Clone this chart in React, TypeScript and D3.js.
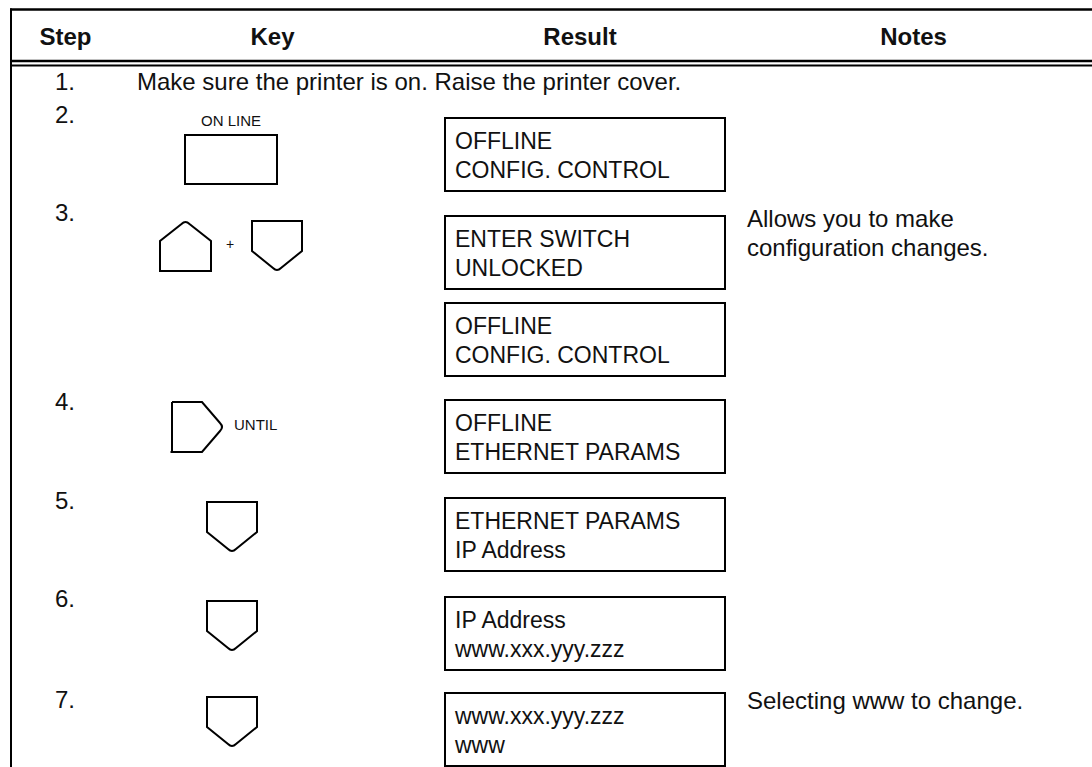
import React from 'react';
import * as d3 from 'd3';

// table content
const headers = ['Step', 'Key', 'Result', 'Notes'];
const steps = ['1.', '2.', '3.', '4.', '5.', '6.', '7.'];
const introText = 'Make sure the printer is on. Raise the printer cover.';
const keyKinds = ['', 'online', 'upDown', 'rightUntil', 'down', 'down', 'down'];
const keyLabels = { online: 'ON LINE', until: 'UNTIL', plus: '+' };
const resultLines = [
  ['OFFLINE', 'CONFIG. CONTROL'],
  ['ENTER SWITCH', 'UNLOCKED'],
  ['OFFLINE', 'CONFIG. CONTROL'],
  ['OFFLINE', 'ETHERNET PARAMS'],
  ['ETHERNET PARAMS', 'IP Address'],
  ['IP Address', 'www.xxx.yyy.zzz'],
  ['www.xxx.yyy.zzz', 'www'],
];
const noteSteps = ['3.', '7.'];
const noteLines = [['Allows you to make', 'configuration changes.'], ['Selecting www to change.']];

// layout (page geometry, not data)
const W = 1092;
const H = 767;
const FONT = '"Liberation Sans", Arial, Helvetica, sans-serif';
const colEdges = [11, 120, 425, 735, 1092];
const rowTops = [72, 118, 216, 400, 498, 597, 693];
const stepBaselines = [90, 123, 221, 410, 509, 607, 708];
const resultTops = [118, 216, 303, 400, 498, 597, 693];
const noteBaselines = [227, 709];

const colCenter = d3.scaleOrdinal<string, number>()
  .domain(headers)
  .range(headers.map((_, i) => (colEdges[i] + colEdges[i + 1]) / 2));
const rowTop = d3.scaleOrdinal<string, number>().domain(steps).range(rowTops);
const stepY = d3.scaleOrdinal<string, number>().domain(steps).range(stepBaselines);
const noteY = d3.scaleOrdinal<string, number>().domain(noteSteps).range(noteBaselines);

const boxX = 445;
const boxW = 280;
const boxH = 73;
const noteX = 747;

// key shapes: square-ish button with a chevron side
const R = 4;
function downKey(x: number, y: number) {
  const w = 50, s = 30, d = 21;
  const p = d3.path();
  const ax = x + w / 2, ay = y + s + d;
  p.moveTo(x, y);
  p.lineTo(x + w, y);
  p.lineTo(x + w, y + s);
  p.lineTo(ax + R, ay - R);
  p.quadraticCurveTo(ax, ay, ax - R, ay - R);
  p.lineTo(x, y + s);
  p.closePath();
  return p.toString();
}
function upKey(x: number, y: number) {
  const w = 51, s = 21, h = 51;
  const p = d3.path();
  const ax = x + w / 2, ay = y;
  p.moveTo(x, y + h);
  p.lineTo(x + w, y + h);
  p.lineTo(x + w, y + s);
  p.lineTo(ax + R, ay + R);
  p.quadraticCurveTo(ax, ay, ax - R, ay + R);
  p.lineTo(x, y + s);
  p.closePath();
  return p.toString();
}
function rightKey(x: number, y: number) {
  const h = 50, s = 30, d = 22;
  const p = d3.path();
  const ax = x + s + d, ay = y + h / 2;
  p.moveTo(x, y);
  p.lineTo(x + s, y);
  p.lineTo(ax - R, ay - R);
  p.quadraticCurveTo(ax, ay, ax - R, ay + R);
  p.lineTo(x + s, y + h);
  p.lineTo(x - 1.5, y + h);
  p.moveTo(x, y + h);
  p.lineTo(x, y);
  return p.toString();
}

const stroke = '#000';

function KeyCell({ kind, step }: { kind: string; step: string }) {
  const top = rowTop(step);
  if (kind === 'online') {
    return (
      <g>
        <text x={231} y={top + 8} fontSize={15} textAnchor="middle">{keyLabels.online}</text>
        <rect x={185} y={top + 17} width={92} height={49} fill="none" stroke={stroke} strokeWidth={2} />
      </g>
    );
  }
  if (kind === 'upDown') {
    return (
      <g>
        <path d={upKey(160, top + 4)} fill="none" stroke={stroke} strokeWidth={2} />
        <text x={230} y={top + 33} fontSize={14} textAnchor="middle">{keyLabels.plus}</text>
        <path d={downKey(252, top + 5)} fill="none" stroke={stroke} strokeWidth={2} />
      </g>
    );
  }
  if (kind === 'rightUntil') {
    return (
      <g>
        <path d={rightKey(172, top + 2)} fill="none" stroke={stroke} strokeWidth={2} />
        <text x={234} y={top + 30} fontSize={15}>{keyLabels.until}</text>
      </g>
    );
  }
  if (kind === 'down') {
    return <path d={downKey(207, top + 4)} fill="none" stroke={stroke} strokeWidth={2} />;
  }
  return null;
}

export default function App() {
  return (
    <div style={{ position: 'fixed', left: 0, top: 0, width: W, height: H, background: '#fff' }}>
      <svg width={W} height={H} style={{ display: 'block' }} fontFamily={FONT} fill="#111">
        {/* frame */}
        <line x1={10} x2={W} y1={9.5} y2={9.5} stroke={stroke} strokeWidth={2.4} />
        <line x1={11} x2={11} y1={8.5} y2={H} stroke={stroke} strokeWidth={2} />
        <line x1={11} x2={W} y1={61} y2={61} stroke={stroke} strokeWidth={2.4} />
        <line x1={11} x2={W} y1={65.5} y2={65.5} stroke={stroke} strokeWidth={2} />

        {/* header */}
        {headers.map(h => (
          <text key={h} x={colCenter(h)} y={45} fontSize={24} fontWeight="bold" textAnchor="middle">{h}</text>
        ))}

        {/* step numbers */}
        {steps.map(s => (
          <text key={s} x={55} y={stepY(s)} fontSize={24}>{s}</text>
        ))}
        <text x={137} y={stepY(steps[0])} fontSize={24}>{introText}</text>

        {/* keys */}
        {steps.map((s, i) => <KeyCell key={s} kind={keyKinds[i]} step={s} />)}

        {/* result displays */}
        {resultLines.map((lines, i) => (
          <g key={i} transform={`translate(${boxX},${resultTops[i]})`}>
            <rect x={0} y={0} width={boxW} height={boxH} fill="none" stroke={stroke} strokeWidth={2} />
            {lines.map((t, j) => (
              <text key={j} x={10} y={31 + j * 29} fontSize={23}>{t}</text>
            ))}
          </g>
        ))}

        {/* notes */}
        {noteLines.map((lines, i) => (
          <g key={i}>
            {lines.map((t, j) => (
              <text key={j} x={noteX} y={noteY(noteSteps[i]) + j * 29} fontSize={24}>{t}</text>
            ))}
          </g>
        ))}
      </svg>
    </div>
  );
}
